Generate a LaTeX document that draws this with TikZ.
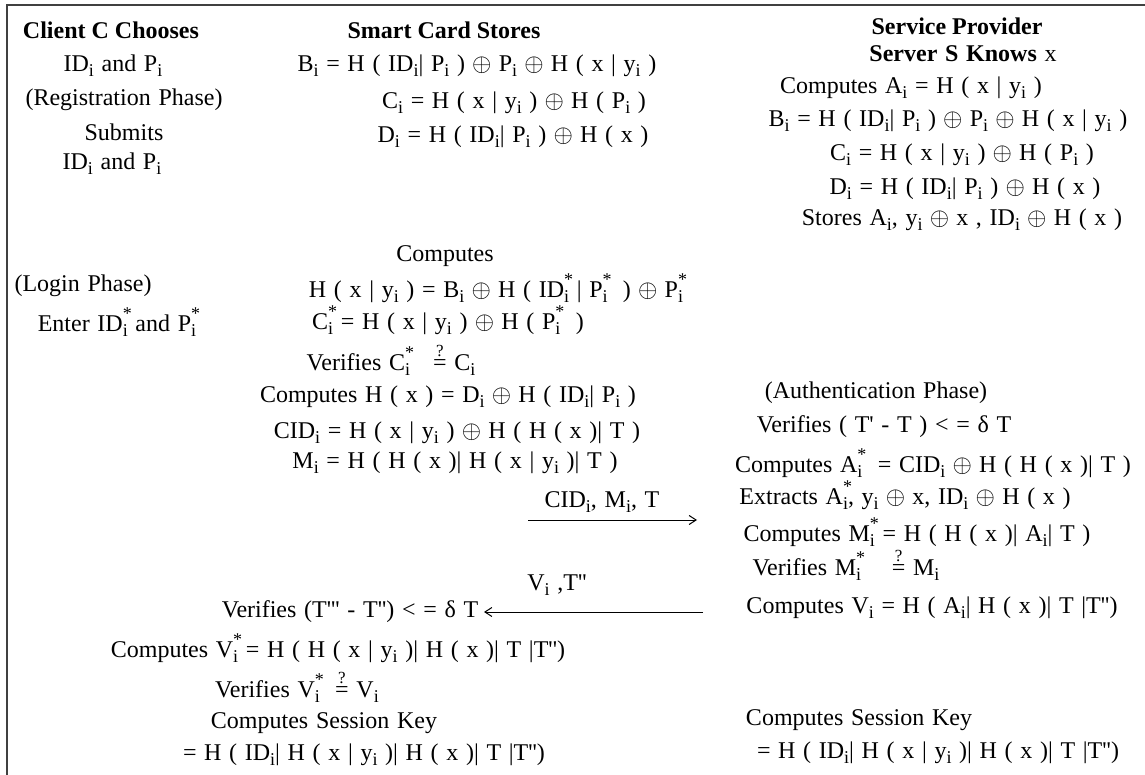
\documentclass[tikz,border=0pt]{standalone}
\usepackage{fontspec}
\setmainfont{Liberation Serif}[Ligatures=TeXOff]
\usetikzlibrary{arrows.meta}

\newcommand{\si}{\raisebox{-0.45ex}{\fontsize{18}{18}\selectfont i}}
\newcommand{\sti}{\rlap{\raisebox{1.1ex}{\fontsize{18}{18}\selectfont *}}\si}
\newcommand{\xo}{\hspace{0.3em}$\oplus$\hspace{0.3em}}
\newcommand{\qe}{\shortstack{{\fontsize{17}{17}\selectfont ?}\\=}}
\newcommand{\tk}{'}
\newcommand{\widesp}{\spaceskip=0.32em plus 0.1em\relax}

\begin{document}
\begin{tikzpicture}[
  x=1pt, y=-1pt,
  >={Straight Barb[length=7pt,width=9pt]},
  every node/.style={inner sep=0pt, font=\fontsize{24}{29}\selectfont\widesp},
  head/.style={font=\fontsize{24}{29}\selectfont\bfseries},
  frame/.style={line width=2.2pt, black!75},
  msg/.style={->, line width=1pt}
]
\useasboundingbox (0,0) rectangle (1145,775);
\draw[frame] (7,775) -- (7,5) -- (1145,5);

% registration phase
\node[head] (client) at (111,30) {Client C Chooses};
\node (cidp) at (113,66) {ID\si{} and P\si};
\node (regph) at (124,100) {(Registration Phase)};
\node (submit) at (124,132) {Submits};
\node (sidp) at (112,164) {ID\si{} and P\si};

\node[head] (card) at (444,30) {Smart Card Stores};
\node (cb) at (477,66) {B\si{} = H ( ID\si{}| P\si{} )\xo P\si{}\xo H ( x | y\si{} )};
\node (cc) at (514,103) {C\si{} = H ( x | y\si{} )\xo H ( P\si{} )};
\node (cd) at (513,137) {D\si{} = H ( ID\si{}| P\si{} )\xo H ( x )};

\node[head] (prov) at (957,26) {Service Provider};
\node (knows) at (963,54) {\textbf{Server S Knows} x};
\node (sa) at (911,88) {Computes A\si{} = H ( x | y\si{} )};
\node (sb) at (948,121) {B\si{} = H ( ID\si{}| P\si{} )\xo P\si{}\xo H ( x | y\si{} )};
\node (sc) at (962,155) {C\si{} = H ( x | y\si{} )\xo H ( P\si{} )};
\node (sd) at (965,189) {D\si{} = H ( ID\si{}| P\si{} )\xo H ( x )};
\node (sst) at (962,220) {Stores A\si{}, y\si{}\xo x , ID\si{}\xo H ( x )};

% login phase
\node (logph) at (83,286) {(Login Phase)};
\node (enter) at (117,322) {Enter ID\sti{} and P\sti};
\node (comp) at (445,256) {Computes};
\node (hxy) at (496,288) {H ( x | y\si{} ) = B\si{}\xo H ( ID\sti{} | P\sti{} \ )\xo P\sti};
\node (cstar) at (448,320) {C\sti{} = H ( x | y\si{} )\xo H ( P\sti{} \ )};
\node (vc) at (391,360) {Verifies C\sti{} \ \ \qe{} C\si};
\node (hx) at (448,397) {Computes H ( x ) = D\si{}\xo H ( ID\si{}| P\si{} )};
\node (cidi) at (457,433) {CID\si{} = H ( x | y\si{} )\xo H ( H ( x )| T )};
\node (mi) at (455,463) {M\si{} = H ( H ( x )| H ( x | y\si{} )| T )};
\node (msg1) at (602,502) {CID\si{}, M\si{}, T};
\coordinate (m1s) at (528,520);
\coordinate (m1e) at (697,520);
\draw[msg] (m1s) -- (m1e);

% authentication phase
\node (auph) at (876,393) {(Authentication Phase)};
\node (vt) at (884,427) {Verifies ( T\tk{} - T ) < = δ T};
\node (ca) at (933,463) {Computes A\sti{} \ = CID\si{}\xo H ( H ( x )| T )};
\node (ext) at (905,495) {Extracts A\sti{}, y\si{}\xo x, ID\si{}\xo H ( x )};
\node (cm) at (917,532) {Computes M\sti{} = H ( H ( x )| A\si{}| T )};
\node (vm) at (846,565) {Verifies M\sti{} \ \ \ \qe{} M\si};
\node (cv) at (932,608) {Computes V\si{} = H ( A\si{}| H ( x )| T |T\tk\tk )};
\node (msg2) at (557,585) {V\si{} ,T\tk\tk};
\coordinate (m2s) at (703,612);
\coordinate (m2e) at (484,612);
\draw[msg] (m2s) -- (m2e);

\node (vt3) at (350,612) {Verifies (T\tk\tk\tk{} - T\tk\tk) < = δ T};
\node (cvs) at (338,648) {Computes V\sti{} = H ( H ( x | y\si{} )| H ( x )| T |T\tk\tk )};
\node (vv) at (297,687) {Verifies V\sti{} \ \qe{} V\si};
\node (sk1) at (324,723) {Computes Session Key};
\node (skf1) at (364,755) {= H ( ID\si{}| H ( x | y\si{} )| H ( x )| T |T\tk\tk )};
\node (sk2) at (859,720) {Computes Session Key};
\node (skf2) at (938,753) {= H ( ID\si{}| H ( x | y\si{} )| H ( x )| T |T\tk\tk )};
\end{tikzpicture}
\end{document}
